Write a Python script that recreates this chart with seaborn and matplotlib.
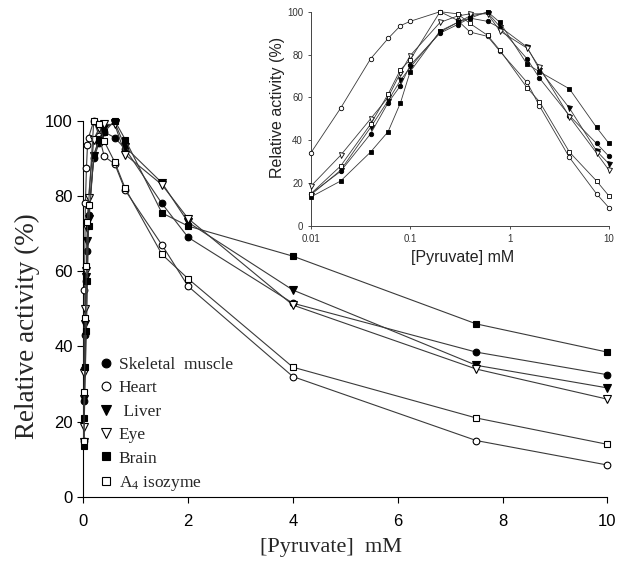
import matplotlib
matplotlib.use("Agg")
import matplotlib.pyplot as plt
import seaborn as sns
import pandas as pd
from matplotlib.lines import Line2D

# ---- data ----
pyruvate = [0.01, 0.02, 0.04, 0.06, 0.08, 0.1, 0.2, 0.3, 0.4, 0.6, 0.8, 1.5, 2, 4, 7.5, 10]
skeletal = [15, 25.5, 43, 57.5, 65.5, 75, 90, 94, 97, 95.5, 92.5, 78, 69, 51.5, 38.5, 32.5]
heart    = [34, 55, 78, 87.5, 93.5, 95.5, 100, 96, 90.5, 88.5, 81.5, 67, 56, 32, 15, 8.5]
liver    = [14.5, 26, 46, 58.5, 68, 74, 90.5, 95, 98, 99.5, 93, 83.5, 73, 55, 35, 29]
eye      = [18.5, 33, 50, 60, 71.5, 79.5, 95, 98, 99, 99, 91, 83, 74, 51, 34, 26]
brain    = [13.5, 21, 34.5, 44, 57.5, 72, 91, 95, 97, 100, 95, 75.5, 72, 64, 46, 38.5]
a4       = [15, 28, 47.5, 61.5, 73, 77.5, 100, 99, 94.5, 89, 82, 64.5, 58, 34.5, 21, 14]

series_names = ["Skeletal  muscle", "Heart", " Liver", "Eye", "Brain",
                r"A$_\mathregular{4}$ isozyme"]
series_values = [skeletal, heart, liver, eye, brain, a4]
markers = ["o", "o", "v", "v", "s", "s"]
faces = ["black", "white", "black", "white", "black", "white"]

xticks_main = [0, 2, 4, 6, 8, 10]
yticks = [0, 20, 40, 60, 80, 100]
xticks_inset = [0.01, 0.1, 1, 10]
xticklabels_inset = ["0.01", "0.1", "1", "10"]

rows = []
for name, vals in zip(series_names, series_values):
    for x, y in zip(pyruvate, vals):
        rows.append({"tissue": name, "pyruvate": x, "activity": y})
df = pd.DataFrame(rows)

sns.set_style("ticks")
plt.rcParams["font.family"] = ["Liberation Sans", "DejaVu Sans"]
plt.rcParams["mathtext.default"] = "regular"

fig = plt.figure(figsize=(6.24, 5.62), dpi=100)
W, H = 624, 562

def px_axes(l, r, t, b):
    return [l / W, 1 - b / H, (r - l) / W, (b - t) / H]

ax = fig.add_axes(px_axes(83.3, 607.3, 120.7, 497))
axin = fig.add_axes(px_axes(310.7, 609, 11.7, 226))

line_col = "#3a3a3a"
for name, m, fc in zip(series_names, markers, faces):
    sub = df[df["tissue"] == name]
    sns.lineplot(data=sub, x="pyruvate", y="activity", ax=ax, color=line_col,
                 linewidth=0.8, marker=m, markersize=4.8 if m != "v" else 5.4,
                 markerfacecolor=fc, markeredgecolor="black",
                 markeredgewidth=0.8, clip_on=False, zorder=3,
                 estimator=None, sort=False)
    sns.lineplot(data=sub, x="pyruvate", y="activity", ax=axin, color=line_col,
                 linewidth=0.6, marker=m, markersize=3.2 if m != "v" else 3.6,
                 markerfacecolor=fc, markeredgecolor="black",
                 markeredgewidth=0.6, clip_on=False, zorder=3,
                 estimator=None, sort=False)

# ---- main axes ----
ax.set_xlim(0, 10)
ax.set_ylim(0, 100)
ax.set_xticks(xticks_main)
ax.set_yticks(yticks)
ax.tick_params(axis="both", labelsize=12, length=4.5, width=0.8, colors="black",
               direction="out")
ax.tick_params(axis="x", pad=8)
ax.tick_params(axis="y", pad=3)
for s in ["top", "right"]:
    ax.spines[s].set_visible(False)
for s in ["left", "bottom"]:
    ax.spines[s].set_linewidth(0.8)
    ax.spines[s].set_color("black")
ax.set_xlabel("[Pyruvate]  mM", fontfamily="Liberation Serif", fontsize=16,
              ha="center", va="center")
ax.set_ylabel("Relative activity (%)", fontfamily="Liberation Serif", fontsize=19.5,
              ha="center", va="center")
ax.xaxis.set_label_coords(0.473, -0.1355)
ax.yaxis.set_label_coords(-0.107, 0.454)

handles = [Line2D([], [], ls="none", marker=m, markersize=6.3 if m != "v" else 7,
                  markerfacecolor=fc, markeredgecolor="black", markeredgewidth=0.8)
           for m, fc in zip(markers, faces)]
leg = ax.legend(handles, series_names, loc="upper left",
                bbox_to_anchor=(0.031, 0.373), frameon=False,
                prop={"family": "Liberation Serif", "size": 12.5},
                handlelength=0.8, handletextpad=0.3, labelspacing=0.42,
                borderpad=0, borderaxespad=0)

# ---- inset axes ----
axin.set_xscale("log")
axin.set_xlim(0.01, 10)
axin.set_ylim(0, 100)
axin.set_xticks(xticks_inset)
axin.set_xticklabels(xticklabels_inset)
axin.xaxis.set_minor_locator(matplotlib.ticker.NullLocator())
axin.set_yticks(yticks)
axin.tick_params(axis="both", labelsize=7, length=2.5, width=0.6,
                 colors="#333333", direction="out", pad=3)
for s in ["top", "right"]:
    axin.spines[s].set_visible(False)
for s in ["left", "bottom"]:
    axin.spines[s].set_linewidth(0.7)
    axin.spines[s].set_color("#444444")
axin.set_xlabel("[Pyruvate] mM", fontsize=11.5, color="#222222",
                ha="center", va="center")
axin.set_ylabel("Relative activity (%)", fontsize=11.5, color="#222222",
                ha="center", va="center")
axin.xaxis.set_label_coords(0.51, -0.149)
axin.yaxis.set_label_coords(-0.11, 0.555)
if axin.get_legend():
    axin.get_legend().remove()

fig.savefig("out.png", dpi=100)
